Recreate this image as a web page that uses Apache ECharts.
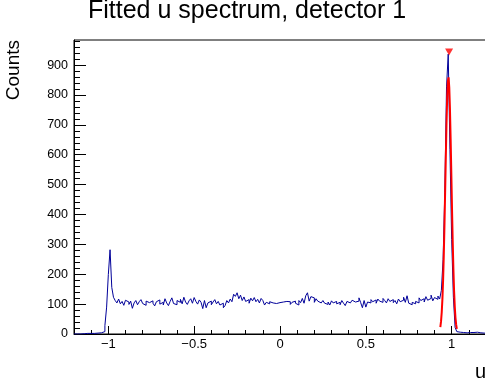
<!DOCTYPE html>
<html><head><meta charset="utf-8">
<script src="https://cdn.jsdelivr.net/npm/echarts@6/dist/echarts.min.js"></script>
<style>html,body{margin:0;padding:0;background:#fff}#c{width:485px;height:380px}</style>
</head><body><div id="c"></div>
<script>
// Histogram definition: 240 bins of width 0.01 starting at -1.2
const binStart = -1.2;
const binWidth = 0.01;
const counts = [
  0, 0, 1, 0, 2, 1, 3, 2, 1, 2, 3, 2, 4, 3, 5,
  4, 6, 8, 28, 90, 199, 282, 156, 123,
  112, 104, 117, 101, 109, 96, 113, 107, 99, 110,
  86, 104, 112, 98, 108, 115, 102, 96, 110, 105,
  99, 111, 103, 94, 108, 114, 100, 106, 97, 118,
  104, 95, 109, 121, 102, 98, 112, 106, 116, 101,
  123, 107, 99, 111, 118, 103, 122, 109, 100, 114,
  106, 85, 112, 88, 104, 110, 98, 107, 115, 101,
  109, 97, 103, 88, 95, 112, 104, 117, 108, 133,
  126, 138, 118, 130, 112, 124, 109, 115, 103, 120,
  111, 122, 108, 116, 104, 119, 112, 97, 106, 101,
  108, 104, 106, 102, 99, 105, 103, 107, 101, 109,
  104, 108, 99, 106, 110, 103, 97, 112, 105, 119,
  103, 128, 138, 110, 125, 121, 106, 118, 110, 104,
  108, 112, 103, 99, 107, 97, 111, 104, 109, 101,
  106, 98, 112, 103, 95, 109, 104, 100, 113, 107,
  102, 110, 121, 105, 88, 112, 90, 107, 104, 115,
  108, 114, 103, 117, 110, 106, 119, 112, 104, 118,
  109, 115, 105, 112, 101, 117, 108, 113, 123, 106,
  128, 103, 98, 106, 101, 109, 104, 121, 112, 118,
  107, 125, 113, 119, 130, 111, 122, 116, 127, 117,
  146, 249, 474, 827, 937, 617, 316, 123, 22,
  8, 6, 7, 5, 6, 4, 6, 5, 3, 5, 4, 6, 3, 4, 5, 3, 4
];
// Fitted curve
const fitX = [0.934,0.938,0.942,0.946,0.950,0.954,0.958,0.962,0.966,0.970,0.974,0.978,0.982,0.986,0.990,0.994,0.998,1.002,1.006,1.010,1.014,1.018,1.022,1.026,1.030];
const fitY = [23,42,72,116,179,262,363,477,596,706,794,848,859,826,753,653,537,419,310,218,145,92,55,32,17];
// Peak marker
const peakX = [0.985];
const peakY = [937];
// Axis ticks and labels
const yMax = 984;
const xMajorTicks = [-1, -0.5, 0, 0.5, 1];
const xTickLabels = ['\u22121', '\u22120.5', '0', '0.5', '1'];
const xMinorTicks = [-1.1,-0.9,-0.8,-0.7,-0.6,-0.4,-0.3,-0.2,-0.1,0.1,0.2,0.3,0.4,0.6,0.7,0.8,0.9,1.1];
const yMajorTicks = [0,100,200,300,400,500,600,700,800,900];
const yMinorTicks = [20,40,60,80,120,140,160,180,220,240,260,280,320,340,360,380,420,440,460,480,520,540,560,580,620,640,660,680,720,740,760,780,820,840,860,880,920,940,960,980];

const FONT = 'Liberation Sans, Arial, Helvetica, sans-serif';

const histData = [];
for (let i = 0; i < counts.length; i++) {
  histData.push([+(binStart + i * binWidth).toFixed(4), counts[i]]);
}
histData.push([+(binStart + counts.length * binWidth).toFixed(4), counts[counts.length - 1]]);
const fitData = fitX.map((x, i) => [x, fitY[i]]);
const peakData = peakX.map((x, i) => [x, peakY[i]]);

const chart = echarts.init(document.getElementById('c'), null, {renderer: 'canvas'});
chart.setOption({
  animation: false,
  backgroundColor: '#fff',
  title: {
    text: 'Fitted u spectrum, detector 1',
    left: 88, top: -1, padding: 0,
    textStyle: {fontSize: 25, fontWeight: 'normal', color: '#000', fontFamily: FONT}
  },
  grid: {
    left: 74, top: 40, width: 412, height: 294,
    show: true, borderColor: '#000', borderWidth: 1, backgroundColor: 'transparent',
    containLabel: false, outerBoundsMode: 'none'
  },
  xAxis: [{
    type: 'value', min: -1.2, max: 1.2, position: 'bottom',
    axisLine: {show: true, onZero: false, lineStyle: {color: '#000', width: 1}},
    axisTick: {show: true, inside: true, length: 8, customValues: xMajorTicks, lineStyle: {color: '#000', width: 1}},
    axisLabel: {
      show: true, customValues: xMajorTicks, margin: 4,
      fontSize: 13, color: '#000', fontFamily: FONT,
      formatter: v => { const k = xMajorTicks.findIndex(t => Math.abs(t - v) < 1e-9); return k >= 0 ? xTickLabels[k] : ''; }
    },
    splitLine: {show: false}
  }, {
    type: 'value', min: -1.2, max: 1.2, position: 'bottom', offset: 0,
    axisLine: {show: false, onZero: false},
    axisTick: {show: true, inside: true, length: 4, customValues: xMinorTicks, lineStyle: {color: '#000', width: 1}},
    axisLabel: {show: false},
    splitLine: {show: false}
  }],
  yAxis: [{
    type: 'value', min: 0, max: yMax, position: 'left',
    axisLine: {show: true, onZero: false, lineStyle: {color: '#000', width: 1}},
    axisTick: {show: true, inside: true, length: 12, customValues: yMajorTicks, lineStyle: {color: '#000', width: 1}},
    axisLabel: {show: true, customValues: yMajorTicks, margin: 6, fontSize: 12.5, color: '#000', fontFamily: FONT},
    splitLine: {show: false}
  }, {
    type: 'value', min: 0, max: yMax, position: 'left', offset: 0,
    axisLine: {show: false, onZero: false},
    axisTick: {show: true, inside: true, length: 6, customValues: yMinorTicks, lineStyle: {color: '#000', width: 1}},
    axisLabel: {show: false},
    splitLine: {show: false}
  }],
  graphic: [{
    type: 'text', x: 4, y: 40, rotation: Math.PI / 2,
    style: {text: 'Counts', fontSize: 19, fontFamily: FONT, fill: '#000', textAlign: 'right', textVerticalAlign: 'top'}
  }, {
    type: 'text', x: 486, y: 382,
    style: {text: 'u', fontSize: 20, fontFamily: FONT, fill: '#000', textAlign: 'right', textVerticalAlign: 'bottom'}
  }],
  series: [{
    type: 'line', xAxisIndex: 0, yAxisIndex: 0, data: histData, step: 'end',
    showSymbol: false, symbol: 'none', lineStyle: {color: '#000099', width: 1}, clip: true, z: 2
  }, {
    type: 'line', xAxisIndex: 0, yAxisIndex: 0, data: fitData,
    showSymbol: false, symbol: 'none', smooth: false, lineStyle: {color: '#ff0000', width: 2}, clip: true, z: 3
  }, {
    type: 'scatter', xAxisIndex: 0, yAxisIndex: 0, data: peakData,
    symbol: 'triangle', symbolRotate: 180, symbolSize: [8, 7], symbolOffset: [0, -2],
    itemStyle: {color: '#ff0000'}, z: 4
  }]
});
</script>
</body></html>
